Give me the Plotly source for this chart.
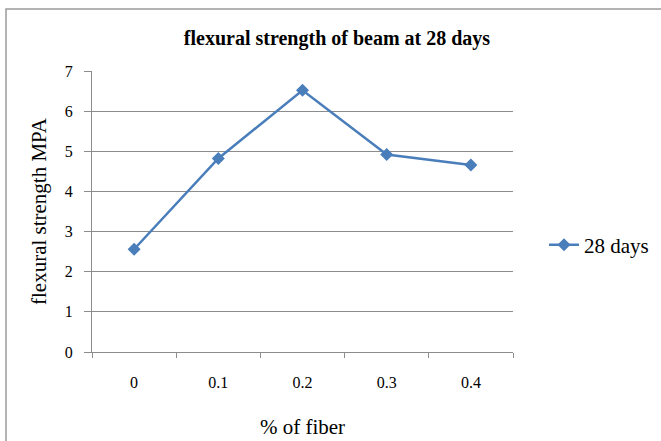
import plotly.graph_objects as go

# Fibre content (%) and 28-day flexural strength (MPa)
fiber_pct = ["0", "0.1", "0.2", "0.3", "0.4"]
strength_28d = [2.56, 4.82, 6.52, 4.92, 4.66]
series_name = "28 days"

W, H = 661, 441
L, R, T, B = 92, 148, 71, 89
pw, ph = W - L - R, H - T - B

def px_x(p):
    return (p - L) / pw

def px_y(p):
    return (H - B - p) / ph

serif = "Liberation Serif, Times New Roman, serif"
grid = "#8c8c8c"
blue = "#4a7ebb"

fig = go.Figure()
fig.add_trace(go.Scatter(
    x=fiber_pct, y=strength_28d, name=series_name,
    mode="lines+markers",
    line=dict(color=blue, width=2.5),
    marker=dict(symbol="diamond", size=10, color=blue),
))

fig.update_layout(
    width=W, height=H,
    margin=dict(l=L, r=R, t=T, b=B, autoexpand=False),
    paper_bgcolor="white", plot_bgcolor="white",
    font=dict(family=serif, color="black", size=16),
    title=dict(text="<b>flexural strength of beam at 28 days</b>",
               xref="container", x=337 / W, xanchor="center",
               y=1 - 38 / H, yanchor="middle",
               font=dict(size=20, family=serif)),
    showlegend=True,
    legend=dict(x=px_x(544), y=px_y(245), xanchor="left", yanchor="middle",
                font=dict(size=21, family=serif), bgcolor="rgba(0,0,0,0)",
                itemwidth=30),
    xaxis=dict(
        type="category", tickson="boundaries", range=[-0.5, 4.5],
        showline=True, linecolor=grid, linewidth=1,
        ticks="outside", ticklen=5, tickcolor=grid,
        showgrid=False, ticklabelstandoff=16,
        tickfont=dict(size=16),
        title=dict(text="% of fiber", font=dict(size=21), standoff=29),
    ),
    yaxis=dict(
        range=[0, 7], dtick=1,
        showline=True, linecolor=grid, linewidth=1,
        ticks="outside", ticklen=7, tickcolor=grid,
        showgrid=True, gridcolor=grid, gridwidth=1,
        zeroline=False, ticklabelstandoff=8,
        tickfont=dict(size=16),
        title=dict(text="flexural strength MPA", font=dict(size=21), standoff=12),
    ),
)

# Outer chart frame
fig.add_shape(type="rect", xref="paper", yref="paper",
              x0=px_x(6), x1=px_x(700), y0=px_y(480), y1=px_y(9),
              line=dict(color="#9a9a9a", width=1.5), fillcolor="rgba(0,0,0,0)",
              layer="below")

fig.write_html("out.html")
